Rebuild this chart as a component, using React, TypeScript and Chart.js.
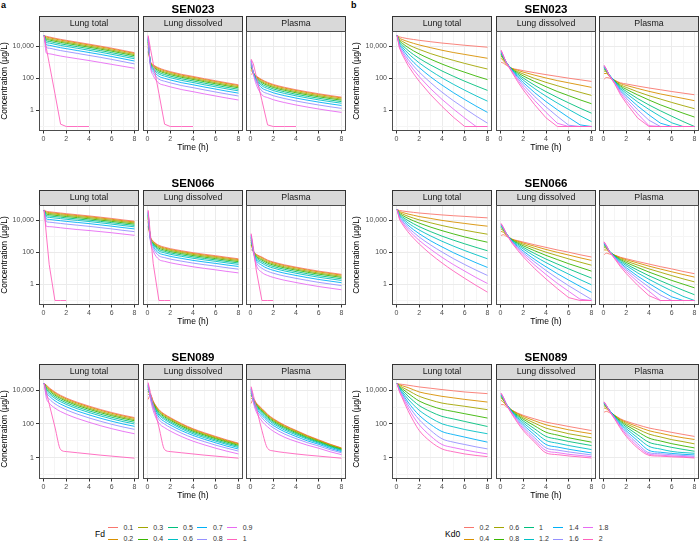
import React, { useEffect, useRef } from 'react';
import { Chart, registerables } from 'chart.js';

Chart.register(...registerables);
Chart.defaults.font.family = '"Liberation Sans", Arial, sans-serif';

// ---------------- data ----------------
const TIME_H = [0, 0.05, 0.25, 0.5, 1, 1.5, 2, 3, 4, 5, 6, 7, 8];
const FD_LEVELS = ['0.1', '0.2', '0.3', '0.4', '0.5', '0.6', '0.7', '0.8', '0.9', '1'];
const KD0_LEVELS = ['0.2', '0.4', '0.6', '0.8', '1', '1.2', '1.4', '1.6', '1.8', '2'];
const COMPARTMENTS = ['Lung total', 'Lung dissolved', 'Plasma'];
const COMPOUNDS = ['SEN023', 'SEN066', 'SEN089'];
const X_TICKS = [0, 1, 2, 3, 4, 5, 6, 7, 8];
const X_LABELED = [0, 2, 4, 6, 8];
const Y_TICKS = [0.1, 1, 10, 100, 1000, 10000];
const Y_TICK_LABELS = ['', '1', '', '100', '', '10,000'];
const Y_MAJOR = [1, 100, 10000];
const FLOOR_VALUE = 0.1;
const Y_RANGES = [
  [0.0525, 89000],
  [0.0525, 89000],
  [0.054, 46800],
];
const HUE_COLORS = ['#F8766D', '#D89000', '#A3A500', '#39B600', '#00BF7D', '#00BFC4', '#00B0F6', '#9590FF', '#E76BF3', '#FF62BC'];

// Panel a: Fd
const fd_SEN023_lungTotal = [
  [0, 46800, 41700, 38000, 31600, 26900, 23400, 17800, 13500, 10200, 7590, 5500, 3980],
  [0, 46800, 37200, 33900, 28200, 24000, 20900, 15800, 12000, 9120, 6760, 4900, 3550],
  [0, 46800, 31600, 28800, 24000, 20400, 17800, 13500, 10200, 7760, 5750, 4170, 3020],
  [0, 46800, 26900, 24500, 20400, 17400, 15100, 11500, 8710, 6610, 4900, 3550, 2570],
  [0, 46800, 21900, 20000, 16600, 14100, 12300, 9330, 7080, 5370, 3980, 2880, 2090],
  [0, 46800, 17400, 15800, 13200, 11200, 9770, 7410, 5620, 4270, 3160, 2290, 1660],
  [0, 46800, 12600, 11500, 9550, 8130, 7080, 5370, 4070, 3090, 2290, 1660, 1200],
  [0, 46800, 8320, 7590, 6310, 5370, 4680, 3550, 2690, 2040, 1510, 1100, 794],
  [0, 46800, 3720, 3390, 2880, 2450, 2140, 1660, 1290, 977, 741, 562, 427],
  [0, 46800, 7410, 851, 11.5, 0.14, 0.1, 0.1, 0.1, null, null, null, null],
];
const fd_SEN023_lungDissolved = [
  [0, 4680, 1120, 708, 447, 331, 263, 178, 132, 95.5, 70.8, 52.5, 39.8],
  [0, 9330, 1070, 661, 398, 295, 234, 158, 117, 85.1, 63.1, 46.8, 35.5],
  [0, 14100, 1020, 589, 339, 251, 200, 135, 100, 72.4, 53.7, 39.8, 30.2],
  [0, 18600, 977, 525, 288, 214, 170, 115, 85.1, 61.7, 45.7, 33.9, 25.7],
  [0, 23400, 933, 447, 234, 174, 138, 93.3, 69.2, 50.1, 37.2, 27.5, 20.9],
  [0, 28200, 871, 380, 186, 138, 110, 74.1, 55.0, 39.8, 29.5, 21.9, 16.6],
  [0, 33100, 794, 309, 135, 100, 79.4, 53.7, 39.8, 28.8, 21.4, 15.8, 12.0],
  [0, 37200, 692, 229, 89.1, 66.1, 52.5, 35.5, 26.3, 19.1, 14.1, 10.5, 7.94],
  [0, 41700, 575, 151, 50.1, 37.2, 29.5, 20.0, 14.8, 10.7, 7.94, 5.89, 4.47],
  [0, 46800, 7410, 851, 11.5, 0.14, 0.1, 0.1, 0.1, null, null, null, null],
];
const fd_SEN023_plasma = [
  [0, 178, 200, 141, 83.2, 56.2, 41.7, 27.5, 19.5, 14.5, 11.0, 8.51, 6.76],
  [0, 316, 209, 132, 74.1, 50.1, 37.2, 24.5, 17.4, 12.9, 9.77, 7.59, 6.03],
  [0, 479, 214, 123, 63.1, 42.7, 31.6, 20.9, 14.8, 11.0, 8.32, 6.46, 5.13],
  [0, 631, 219, 112, 53.7, 36.3, 26.9, 17.8, 12.6, 9.33, 7.08, 5.50, 4.37],
  [0, 794, 219, 100, 43.7, 29.5, 21.9, 14.5, 10.2, 7.59, 5.75, 4.47, 3.55],
  [0, 955, 219, 89.1, 34.7, 23.4, 17.4, 11.5, 8.13, 6.03, 4.57, 3.55, 2.82],
  [0, 1120, 214, 75.9, 25.1, 17.0, 12.6, 8.32, 5.89, 4.37, 3.31, 2.57, 2.04],
  [0, 1260, 204, 60.3, 16.6, 11.2, 8.32, 5.50, 3.89, 2.88, 2.19, 1.70, 1.35],
  [0, 1410, 191, 41.7, 9.33, 6.31, 4.68, 3.09, 2.19, 1.62, 1.23, 0.955, 0.759],
  [0, 1580, 794, 138, 4.17, 0.126, 0.1, 0.1, 0.1, null, null, null, null],
];
const fd_SEN066_lungTotal = [
  [0, 42700, 36300, 33900, 30900, 28200, 25700, 21900, 18600, 15500, 12900, 10500, 8710],
  [0, 42700, 32400, 30200, 27500, 25100, 22900, 19500, 16600, 13800, 11500, 9330, 7760],
  [0, 42700, 28200, 26300, 24000, 21900, 20000, 17000, 14500, 12000, 10000, 8130, 6760],
  [0, 42700, 24000, 22400, 20400, 18600, 17000, 14500, 12300, 10200, 8510, 6920, 5750],
  [0, 42700, 20000, 18600, 17000, 15500, 14100, 12000, 10200, 8510, 7080, 5750, 4790],
  [0, 42700, 16200, 15100, 13800, 12600, 11500, 9770, 8320, 6920, 5750, 4680, 3890],
  [0, 42700, 12000, 11200, 10200, 9330, 8510, 7240, 6170, 5130, 4270, 3470, 2880],
  [0, 42700, 8130, 7590, 6920, 6310, 5750, 4900, 4170, 3470, 2880, 2340, 1950],
  [0, 42700, 4170, 3980, 3720, 3390, 3090, 2630, 2290, 1950, 1660, 1380, 1150],
  [0, 42700, 1200, 17.0, 0.1, 0.1, 0.1, null, null, null, null, null, null],
];
const fd_SEN066_lungDissolved = [
  [0, 4270, 912, 501, 275, 209, 170, 126, 95.5, 75.9, 61.7, 49.0, 39.8],
  [0, 8510, 891, 468, 245, 186, 151, 112, 85.1, 67.6, 55.0, 43.7, 35.5],
  [0, 12900, 851, 417, 214, 162, 132, 97.7, 74.1, 58.9, 47.9, 38.0, 30.9],
  [0, 17000, 813, 372, 182, 138, 112, 83.2, 63.1, 50.1, 40.7, 32.4, 26.3],
  [0, 21400, 759, 331, 151, 115, 93.3, 69.2, 52.5, 41.7, 33.9, 26.9, 21.9],
  [0, 25700, 724, 288, 123, 93.3, 75.9, 56.2, 42.7, 33.9, 27.5, 21.9, 17.8],
  [0, 30200, 661, 229, 91.2, 69.2, 56.2, 41.7, 31.6, 25.1, 20.4, 16.2, 13.2],
  [0, 33900, 589, 178, 61.7, 46.8, 38.0, 28.2, 21.4, 17.0, 13.8, 11.0, 8.91],
  [0, 38000, 501, 120, 36.3, 27.5, 22.4, 16.6, 12.6, 10.0, 8.13, 6.46, 5.25],
  [0, 42700, 1410, 20.0, 0.1, 0.1, 0.1, null, null, null, null, null, null],
];
const fd_SEN066_plasma = [
  [0, 148, 112, 75.9, 51.3, 33.1, 25.1, 16.6, 12.0, 8.91, 6.76, 5.37, 4.27],
  [0, 295, 117, 70.8, 45.7, 29.5, 22.4, 14.8, 10.7, 7.94, 6.03, 4.79, 3.80],
  [0, 447, 120, 63.1, 38.9, 25.1, 19.1, 12.6, 9.12, 6.76, 5.13, 4.07, 3.24],
  [0, 589, 123, 56.2, 33.1, 21.4, 16.2, 10.7, 7.76, 5.75, 4.37, 3.47, 2.75],
  [0, 741, 123, 47.9, 26.9, 17.4, 13.2, 8.71, 6.31, 4.68, 3.55, 2.82, 2.24],
  [0, 891, 123, 40.7, 21.4, 13.8, 10.5, 6.92, 5.01, 3.72, 2.82, 2.24, 1.78],
  [0, 1050, 120, 33.1, 15.5, 10.0, 7.59, 5.01, 3.63, 2.69, 2.04, 1.62, 1.29],
  [0, 1170, 115, 24.5, 10.2, 6.61, 5.01, 3.31, 2.40, 1.78, 1.35, 1.07, 0.851],
  [0, 1320, 105, 16.2, 5.62, 3.63, 2.75, 1.82, 1.32, 0.977, 0.741, 0.589, 0.468],
  [0, 1480, 200, 7.94, 0.1, 0.1, 0.1, null, null, null, null, null, null],
];
const fd_SEN089_lungTotal = [
  [0, 26300, 20000, 14100, 7940, 5010, 3470, 1910, 1150, 724, 479, 331, 240],
  [0, 26300, 18200, 12600, 7080, 4470, 3090, 1700, 1020, 646, 427, 295, 214],
  [0, 26300, 15800, 11000, 6030, 3800, 2630, 1450, 871, 550, 363, 251, 182],
  [0, 26300, 14100, 9330, 5130, 3240, 2240, 1230, 741, 468, 309, 214, 155],
  [0, 26300, 12000, 7590, 4170, 2630, 1820, 1000, 603, 380, 251, 174, 126],
  [0, 26300, 10000, 6170, 3310, 2090, 1450, 794, 479, 302, 200, 138, 100],
  [0, 26300, 7590, 4570, 2400, 1510, 1050, 575, 347, 219, 145, 100, 72.4],
  [0, 26300, 5500, 3090, 1580, 1000, 692, 380, 229, 145, 95.5, 66.1, 47.9],
  [0, 26300, 3390, 1740, 871, 550, 380, 209, 126, 79.4, 52.5, 36.3, 26.3],
  [0, 26300, 7590, 1510, 66.1, 3.02, 2.29, 1.95, 1.66, 1.41, 1.23, 1.07, 0.933],
];
const fd_SEN089_lungDissolved = [
  [0, 2880, 5620, 2240, 708, 380, 240, 105, 52.5, 30.2, 18.2, 11.2, 7.24],
  [0, 5750, 5500, 2090, 646, 347, 219, 95.5, 47.9, 27.5, 16.6, 10.2, 6.76],
  [0, 8710, 5250, 1910, 562, 302, 191, 83.2, 42.7, 24.5, 14.8, 9.33, 6.03],
  [0, 11500, 5010, 1740, 490, 263, 166, 74.1, 37.2, 21.9, 13.2, 8.32, 5.37],
  [0, 14500, 4790, 1510, 407, 219, 138, 61.7, 31.6, 18.6, 11.2, 7.08, 4.68],
  [0, 17400, 4470, 1350, 339, 182, 115, 51.3, 26.3, 15.5, 9.55, 6.03, 3.98],
  [0, 20400, 4170, 1100, 257, 138, 87.1, 39.8, 20.9, 12.3, 7.59, 4.79, 3.24],
  [0, 22900, 3720, 871, 182, 97.7, 61.7, 28.2, 14.8, 8.91, 5.50, 3.63, 2.45],
  [0, 25700, 3240, 617, 112, 60.3, 38.0, 17.8, 9.55, 5.75, 3.63, 2.40, 1.66],
  [0, 28800, 7590, 1510, 66.1, 3.02, 2.29, 1.95, 1.66, 1.41, 1.23, 1.07, 0.933],
];
const fd_SEN089_plasma = [
  [0, 1660, 3160, 1780, 832, 380, 209, 85.1, 41.7, 20.9, 11.5, 6.31, 3.80],
  [0, 3310, 3090, 1660, 759, 347, 191, 77.6, 38.9, 19.5, 10.7, 6.03, 3.63],
  [0, 5010, 2950, 1510, 676, 309, 170, 69.2, 34.7, 17.8, 10.0, 5.50, 3.39],
  [0, 6610, 2880, 1410, 589, 269, 148, 61.7, 30.9, 15.8, 9.12, 5.13, 3.16],
  [0, 8320, 2690, 1260, 501, 229, 126, 52.5, 26.9, 14.1, 8.13, 4.68, 2.88],
  [0, 10000, 2570, 1100, 417, 191, 105, 43.7, 22.9, 12.3, 7.24, 4.17, 2.63],
  [0, 11700, 2400, 912, 324, 148, 81.3, 34.7, 18.2, 10.0, 6.17, 3.55, 2.29],
  [0, 13200, 2140, 724, 234, 107, 58.9, 25.1, 13.5, 7.76, 4.90, 2.95, 1.95],
  [0, 14800, 1910, 537, 148, 67.6, 37.2, 16.2, 9.12, 5.50, 3.63, 2.24, 1.51],
  [0, 16600, 5010, 1000, 41.7, 3.55, 2.51, 2.00, 1.66, 1.41, 1.23, 1.07, 0.933],
];

// Panel b: Kd0
const kd_SEN023_lungTotal = [
  [0, 46800, 38900, 34700, 29500, 26300, 23400, 19100, 15800, 13500, 11500, 10000, 8710],
  [0, 46800, 32400, 26300, 19500, 15100, 12000, 8130, 5620, 4070, 3090, 2340, 1780],
  [0, 46800, 26900, 20400, 12900, 8710, 6310, 3470, 2090, 1320, 851, 562, 380],
  [0, 46800, 22900, 15500, 8510, 5130, 3310, 1550, 776, 417, 240, 138, 83.2],
  [0, 46800, 19100, 12000, 5620, 3020, 1740, 676, 288, 135, 66.1, 33.9, 17.8],
  [0, 46800, 16200, 9120, 3720, 1780, 912, 295, 107, 42.7, 18.2, 8.13, 3.80],
  [0, 46800, 13500, 6920, 2400, 1000, 468, 123, 38.0, 12.9, 4.79, 1.86, 0.759],
  [0, 46800, 11200, 5250, 1580, 589, 245, 53.7, 13.8, 4.07, 1.32, 0.447, 0.162],
  [0, 46800, 9330, 3980, 1020, 339, 126, 22.4, 4.90, 1.23, 0.339, 0.1, 0.1],
  [0, 46800, 7940, 3020, 661, 195, 64.6, 9.55, 1.78, 0.380, 0.1, 0.1, 0.1],
];
const kd_SEN023_lungDissolved = [
  [0, 1000, 891, 661, 417, 355, 302, 224, 170, 132, 102, 81.3, 64.6],
  [0, 1780, 1260, 794, 417, 316, 245, 158, 105, 72.4, 52.5, 38.0, 27.5],
  [0, 2510, 1580, 891, 398, 263, 186, 97.7, 56.2, 34.7, 21.4, 13.5, 8.71],
  [0, 3160, 1780, 955, 380, 224, 141, 63.1, 30.2, 15.1, 8.32, 4.57, 2.63],
  [0, 3720, 2000, 1000, 363, 186, 105, 37.2, 14.8, 6.46, 2.95, 1.38, 0.676],
  [0, 4170, 2140, 1000, 339, 155, 77.6, 22.9, 7.76, 2.88, 1.15, 0.468, 0.204],
  [0, 4680, 2290, 1000, 316, 126, 55.0, 12.9, 3.55, 1.10, 0.363, 0.126, 0.1],
  [0, 5010, 2400, 1000, 295, 102, 39.8, 7.41, 1.66, 0.427, 0.120, 0.1, 0.1],
  [0, 5370, 2510, 977, 269, 81.3, 27.5, 4.17, 0.759, 0.158, 0.1, 0.1, 0.1],
  [0, 5750, 2630, 933, 240, 63.1, 19.1, 2.29, 0.347, 0.1, 0.1, 0.1, 0.1],
];
const kd_SEN023_plasma = [
  [0, 89.1, 112, 105, 74.1, 52.5, 44.7, 33.1, 25.1, 19.5, 15.1, 12.0, 9.55],
  [0, 200, 200, 132, 74.1, 46.8, 36.3, 23.4, 15.5, 10.7, 7.76, 5.62, 4.07],
  [0, 282, 251, 148, 70.8, 38.9, 27.5, 14.5, 8.32, 5.13, 3.16, 2.00, 1.29],
  [0, 355, 282, 158, 67.6, 33.1, 20.9, 9.33, 4.47, 2.24, 1.23, 0.676, 0.389],
  [0, 417, 316, 166, 64.6, 27.5, 15.5, 5.50, 2.19, 0.955, 0.437, 0.204, 0.1],
  [0, 479, 331, 166, 60.3, 22.9, 11.5, 3.39, 1.15, 0.427, 0.170, 0.1, 0.1],
  [0, 525, 347, 166, 56.2, 18.6, 8.13, 1.91, 0.525, 0.162, 0.1, 0.1, 0.1],
  [0, 575, 355, 162, 52.5, 15.1, 5.89, 1.10, 0.245, 0.1, 0.1, 0.1, 0.1],
  [0, 617, 363, 158, 47.9, 12.0, 4.07, 0.617, 0.112, 0.1, 0.1, 0.1, 0.1],
  [0, 661, 372, 151, 42.7, 9.33, 2.82, 0.339, 0.1, 0.1, 0.1, 0.1, 0.1],
];
const kd_SEN066_lungTotal = [
  [0, 46800, 40700, 38000, 33900, 30900, 28200, 24500, 21400, 19100, 17400, 15500, 14100],
  [0, 46800, 35500, 30900, 24500, 20400, 17000, 12900, 9770, 7760, 6310, 5130, 4270],
  [0, 46800, 31600, 25100, 17800, 13500, 10500, 6920, 4680, 3310, 2400, 1780, 1350],
  [0, 46800, 27500, 20400, 13200, 9120, 6610, 3720, 2240, 1410, 912, 617, 427],
  [0, 46800, 24000, 16600, 9550, 6030, 3980, 1950, 1020, 575, 339, 204, 126],
  [0, 46800, 20900, 13800, 6920, 3980, 2450, 1050, 490, 245, 129, 70.8, 39.8],
  [0, 46800, 18200, 11000, 5010, 2570, 1450, 525, 219, 95.5, 45.7, 22.4, 11.5],
  [0, 46800, 16200, 9120, 3630, 1740, 891, 288, 105, 40.7, 17.4, 7.76, 3.63],
  [0, 46800, 14100, 7410, 2690, 1170, 550, 155, 49.0, 17.4, 6.76, 2.69, 1.15],
  [0, 46800, 12300, 5890, 1910, 759, 331, 77.6, 21.9, 6.92, 2.40, 0.871, 0.331],
];
const kd_SEN066_lungDissolved = [
  [0, 1120, 1260, 1000, 661, 537, 437, 295, 204, 141, 102, 70.8, 51.3],
  [0, 2000, 1780, 1200, 661, 501, 380, 240, 151, 100, 67.6, 45.7, 31.6],
  [0, 2820, 2240, 1320, 631, 447, 316, 178, 102, 63.1, 38.9, 24.5, 15.8],
  [0, 3550, 2510, 1410, 603, 389, 257, 126, 64.6, 35.5, 19.5, 11.5, 6.76],
  [0, 4170, 2820, 1480, 575, 339, 204, 85.1, 38.0, 18.6, 9.33, 4.79, 2.51],
  [0, 4680, 3020, 1510, 537, 282, 162, 57.5, 22.9, 9.77, 4.37, 2.00, 0.955],
  [0, 5250, 3160, 1510, 501, 234, 120, 36.3, 12.6, 4.68, 1.86, 0.759, 0.324],
  [0, 5620, 3310, 1510, 468, 204, 93.3, 25.1, 7.41, 2.40, 0.832, 0.309, 0.117],
  [0, 6030, 3470, 1480, 427, 166, 70.8, 16.2, 4.17, 1.17, 0.372, 0.120, 0.1],
  [0, 6310, 3550, 1410, 380, 135, 52.5, 9.77, 2.19, 0.550, 0.151, 0.1, 0.1],
];
const kd_SEN066_plasma = [
  [0, 70.8, 89.1, 79.4, 66.1, 49.0, 39.8, 26.9, 18.6, 12.9, 9.33, 6.46, 4.68],
  [0, 141, 141, 100, 66.1, 45.7, 34.7, 21.9, 13.8, 9.12, 6.17, 4.17, 2.88],
  [0, 200, 178, 110, 63.1, 40.7, 28.8, 16.2, 9.33, 5.75, 3.55, 2.24, 1.45],
  [0, 251, 200, 117, 60.3, 35.5, 23.4, 11.5, 5.89, 3.24, 1.78, 1.05, 0.617],
  [0, 295, 219, 120, 57.5, 30.9, 18.6, 7.76, 3.47, 1.70, 0.851, 0.437, 0.229],
  [0, 331, 234, 120, 53.7, 25.7, 14.8, 5.25, 2.09, 0.891, 0.398, 0.182, 0.1],
  [0, 363, 245, 120, 50.1, 21.4, 11.0, 3.31, 1.15, 0.427, 0.170, 0.1, 0.1],
  [0, 398, 251, 117, 46.8, 18.6, 8.51, 2.29, 0.676, 0.219, 0.1, 0.1, 0.1],
  [0, 427, 257, 115, 42.7, 15.1, 6.46, 1.48, 0.380, 0.1, 0.1, 0.1, 0.1],
  [0, 457, 263, 110, 38.0, 12.3, 4.79, 0.891, 0.200, 0.1, 0.1, 0.1, 0.1],
];
const kd_SEN089_lungTotal = [
  [0, 25100, 23400, 22400, 20000, 17800, 15800, 13200, 11000, 9330, 7940, 7080, 6310],
  [0, 25100, 21400, 18600, 14500, 10700, 7940, 5750, 4370, 3550, 2880, 2400, 2000],
  [0, 25100, 19100, 15100, 10000, 6460, 4370, 2630, 1740, 1380, 1120, 891, 708],
  [0, 25100, 17000, 12300, 6760, 3800, 2290, 1200, 741, 550, 407, 302, 224],
  [0, 25100, 15100, 10000, 4570, 2290, 1230, 537, 282, 200, 141, 100, 70.8],
  [0, 25100, 13500, 8130, 3090, 1350, 646, 229, 102, 67.6, 46.8, 34.7, 26.3],
  [0, 25100, 12000, 6610, 2040, 759, 324, 93.3, 35.5, 23.4, 16.6, 11.7, 8.32],
  [0, 25100, 10700, 5370, 1410, 457, 178, 41.7, 13.2, 8.32, 6.03, 4.37, 3.31],
  [0, 25100, 9550, 4370, 955, 263, 89.1, 19.1, 6.03, 3.98, 2.88, 2.14, 1.66],
  [0, 25100, 8510, 3550, 631, 145, 40.7, 8.91, 3.31, 2.24, 1.66, 1.35, 1.15],
];
const kd_SEN089_lungDissolved = [
  [0, 1410, 1410, 1050, 661, 447, 324, 200, 129, 95.5, 70.8, 53.7, 40.7],
  [0, 2510, 2000, 1260, 661, 417, 282, 155, 89.1, 63.1, 44.7, 33.9, 26.3],
  [0, 3550, 2510, 1380, 631, 372, 234, 112, 56.2, 38.0, 26.3, 20.0, 15.1],
  [0, 4170, 2820, 1480, 603, 324, 191, 77.6, 32.4, 21.9, 15.1, 11.2, 8.32],
  [0, 4790, 3160, 1550, 575, 282, 151, 51.3, 18.2, 12.6, 9.12, 6.92, 5.25],
  [0, 5250, 3310, 1580, 537, 240, 117, 33.9, 10.5, 7.24, 5.25, 3.98, 3.02],
  [0, 5750, 3470, 1580, 501, 200, 89.1, 22.4, 6.03, 4.27, 3.16, 2.45, 1.91],
  [0, 6170, 3630, 1580, 468, 170, 67.6, 15.1, 3.80, 2.82, 2.19, 1.78, 1.45],
  [0, 6460, 3720, 1550, 427, 141, 52.5, 11.0, 2.63, 2.00, 1.58, 1.35, 1.15],
  [0, 6760, 3800, 1480, 380, 117, 40.7, 8.32, 1.91, 1.51, 1.26, 1.10, 0.955],
];
const kd_SEN089_plasma = [
  [0, 501, 562, 479, 316, 200, 145, 89.1, 57.5, 42.7, 31.6, 24.0, 18.2],
  [0, 891, 794, 575, 316, 186, 126, 69.2, 39.8, 28.2, 20.0, 15.1, 12.0],
  [0, 1200, 955, 631, 302, 166, 105, 50.1, 25.1, 17.0, 11.7, 8.91, 6.61],
  [0, 1410, 1050, 661, 288, 145, 85.1, 34.7, 14.5, 9.77, 6.76, 5.01, 3.80],
  [0, 1580, 1120, 676, 275, 126, 67.6, 22.9, 8.13, 5.62, 4.07, 3.09, 2.40],
  [0, 1700, 1170, 676, 257, 107, 52.5, 15.1, 4.68, 3.24, 2.34, 2.00, 1.82],
  [0, 1820, 1200, 676, 240, 89.1, 39.8, 10.0, 2.69, 2.09, 1.78, 1.58, 1.45],
  [0, 1910, 1230, 661, 224, 75.9, 30.2, 6.76, 1.95, 1.70, 1.48, 1.35, 1.20],
  [0, 2000, 1260, 631, 204, 63.1, 23.4, 4.90, 1.62, 1.41, 1.26, 1.17, 1.05],
  [0, 2090, 1260, 603, 186, 52.5, 18.2, 3.72, 1.38, 1.23, 1.12, 1.05, 0.955],
];

// ---------------- layout ----------------
const ROW_STEP = 174;
const TOP_H = 31; // title + strip
const PLOT_H = 100;
const X_AXIS_H = 22;
const STRIP_H = 15;
const FACET_W = 100;
const FONT = '"Liberation Sans", Arial, sans-serif';

const PANELS = [
  {
    tag: 'a',
    tagX: 1,
    levels: FD_LEVELS,
    legendTitle: 'Fd',
    legendTitleX: 95,
    legendKeyX: 108,
    data: [
      [fd_SEN023_lungTotal, fd_SEN023_lungDissolved, fd_SEN023_plasma],
      [fd_SEN066_lungTotal, fd_SEN066_lungDissolved, fd_SEN066_plasma],
      [fd_SEN089_lungTotal, fd_SEN089_lungDissolved, fd_SEN089_plasma],
    ],
    axisLeft: 0,
    axisW: 39,
    yTitlePad: 0,
    facetLeft: [39, 143, 246],
  },
  {
    tag: 'b',
    tagX: 351,
    levels: KD0_LEVELS,
    legendTitle: 'Kd0',
    legendTitleX: 445,
    legendKeyX: 464,
    data: [
      [kd_SEN023_lungTotal, kd_SEN023_lungDissolved, kd_SEN023_plasma],
      [kd_SEN066_lungTotal, kd_SEN066_lungDissolved, kd_SEN066_plasma],
      [kd_SEN089_lungTotal, kd_SEN089_lungDissolved, kd_SEN089_plasma],
    ],
    axisLeft: 350,
    axisW: 42,
    yTitlePad: 1.5,
    facetLeft: [392, 496, 599],
  },
];

function FacetChart(props: any) {
  const ref = useRef<HTMLCanvasElement>(null);
  const { series, levels, col, row, panel, compartment, compound } = props;
  const isFirst = col === 0;
  const left = isFirst ? panel.axisLeft : panel.facetLeft[col];
  const width = isFirst ? panel.axisW + FACET_W : FACET_W;
  const height = TOP_H + PLOT_H + X_AXIS_H;
  const top = row * ROW_STEP;

  useEffect(() => {
    const canvas = ref.current;
    if (!canvas) return;
    const [yMin, yMax] = Y_RANGES[row];
    const datasets = series.map((vals: (number | null)[], i: number) => {
      // series that end on the quantification floor keep sharp corners
      const hitsFloor = vals.some((v) => v === null || v === FLOOR_VALUE);
      return {
        label: levels[i],
        data: TIME_H.map((t, j) => ({ x: t, y: vals[j] })),
        borderColor: HUE_COLORS[i],
        backgroundColor: HUE_COLORS[i],
        borderWidth: 0.9,
        pointRadius: 0,
        tension: 0,
        cubicInterpolationMode: hitsFloor ? 'default' : 'monotone',
        spanGaps: false,
        order: levels.length - i,
      };
    });

    const decor = {
      id: 'facetDecor',
      afterDraw(chart: any) {
        const { ctx, chartArea: a } = chart;
        const w = a.right - a.left;
        ctx.save();
        ctx.fillStyle = '#D9D9D9';
        ctx.fillRect(a.left, a.top - STRIP_H, w, STRIP_H);
        ctx.strokeStyle = '#333333';
        ctx.lineWidth = 1;
        ctx.strokeRect(a.left + 0.5, a.top - STRIP_H + 0.5, w - 1, STRIP_H);
        ctx.fillStyle = '#1A1A1A';
        ctx.font = `8.8px ${FONT}`;
        ctx.textAlign = 'center';
        ctx.textBaseline = 'middle';
        ctx.fillText(compartment, a.left + w / 2, a.top - STRIP_H / 2 + 0.5);
        ctx.strokeStyle = '#4D4D4D';
        ctx.strokeRect(a.left + 0.5, a.top + 0.5, w - 1, a.bottom - a.top - 1);
        ctx.restore();
      },
    };

    const chart = new Chart(canvas, {
      type: 'line',
      data: { datasets },
      plugins: [decor],
      options: {
        responsive: false,
        animation: false,
        devicePixelRatio: 1,
        events: [],
        layout: { padding: 0, autoPadding: false },
        plugins: {
          legend: { display: false },
          tooltip: { enabled: false },
          title: {
            display: true,
            text: col === 1 ? compound : ' ',
            color: '#000000',
            font: { size: 11.5, weight: 'bold', family: FONT },
            padding: { top: 2.6, bottom: 14.6 },
          },
        },
        scales: {
          x: {
            type: 'linear',
            min: -0.4,
            max: 8.4,
            afterBuildTicks: (s: any) => {
              s.ticks = X_TICKS.map((v) => ({ value: v }));
            },
            afterFit: (s: any) => {
              s.height = X_AXIS_H;
            },
            ticks: {
              autoSkip: false,
              maxRotation: 0,
              padding: 1,
              color: '#4D4D4D',
              font: { size: 7, family: FONT },
              callback: (v: any) => (X_LABELED.includes(v) ? String(v) : ''),
            },
            grid: {
              color: (c: any) => (c.tick && X_LABELED.includes(c.tick.value) ? '#EBEBEB' : '#F5F5F5'),
              lineWidth: 1,
              tickLength: 2.5,
              tickColor: (c: any) => (c.tick && X_LABELED.includes(c.tick.value) ? '#333333' : 'rgba(0,0,0,0)'),
            },
            border: { display: false },
            title: {
              display: col === 1,
              text: 'Time (h)',
              color: '#000000',
              font: { size: 8.5, family: FONT },
              padding: 0,
            },
          },
          y: {
            type: 'logarithmic',
            min: yMin,
            max: yMax,
            afterBuildTicks: (s: any) => {
              s.ticks = Y_TICKS.map((v) => ({ value: v }));
            },
            afterFit: (s: any) => {
              s.width = isFirst ? panel.axisW : 0;
            },
            ticks: {
              display: isFirst,
              autoSkip: false,
              padding: 2,
              color: '#4D4D4D',
              font: { size: 7, family: FONT },
              callback: (v: any) => {
                const k = Y_TICKS.indexOf(v);
                return k >= 0 ? Y_TICK_LABELS[k] : '';
              },
            },
            grid: {
              color: (c: any) => (c.tick && Y_MAJOR.includes(c.tick.value) ? '#EBEBEB' : '#F5F5F5'),
              lineWidth: 1,
              drawTicks: isFirst,
              tickLength: 3,
              tickColor: (c: any) => (c.tick && Y_MAJOR.includes(c.tick.value) ? '#333333' : 'rgba(0,0,0,0)'),
            },
            border: { display: false },
            title: {
              display: isFirst,
              text: 'Concentration (µg/L)',
              color: '#000000',
              font: { size: 8.5, family: FONT },
              padding: { top: panel.yTitlePad, bottom: 0 },
            },
          },
        },
      } as any,
    });
    return () => chart.destroy();
  }, []);

  return (
    <canvas
      ref={ref}
      width={width}
      height={height}
      style={{ position: 'absolute', left, top, width, height }}
    />
  );
}

function Legend({ panel }: any) {
  const rowsY = [527.7, 539];
  const step = 29.8;
  const items = panel.levels.map((lv: string, i: number) => {
    const c = Math.floor(i / 2);
    const r = i % 2;
    const kx = panel.legendKeyX + c * step;
    const y = rowsY[r];
    return (
      <React.Fragment key={lv}>
        <div
          style={{
            position: 'absolute',
            left: kx,
            top: y - 0.5,
            width: 10,
            height: 0,
            borderTop: `1px solid ${HUE_COLORS[i]}`,
          }}
        />
        <div
          style={{
            position: 'absolute',
            left: kx + 15.5,
            top: y - 5,
            height: 10,
            lineHeight: '10px',
            fontSize: 7,
            color: '#333333',
            whiteSpace: 'nowrap',
          }}
        >
          {lv}
        </div>
      </React.Fragment>
    );
  });
  return (
    <>
      <div
        style={{
          position: 'absolute',
          left: panel.legendTitleX,
          top: 534 - 6,
          height: 12,
          lineHeight: '12px',
          fontSize: 8.5,
          color: '#000000',
        }}
      >
        {panel.legendTitle}
      </div>
      {items}
    </>
  );
}

export default function App() {
  return (
    <div
      style={{
        position: 'absolute',
        left: 0,
        top: 0,
        width: 700,
        height: 543,
        background: '#ffffff',
        fontFamily: FONT,
        overflow: 'hidden',
      }}
    >
      {PANELS.map((panel) => (
        <React.Fragment key={panel.tag}>
          <div
            style={{
              position: 'absolute',
              left: panel.tagX,
              top: 0,
              fontSize: 9,
              fontWeight: 'bold',
              lineHeight: '10px',
              color: '#000',
            }}
          >
            {panel.tag}
          </div>
          {COMPOUNDS.map((compound, r) =>
            COMPARTMENTS.map((comp, c) => (
              <FacetChart
                key={`${panel.tag}-${r}-${c}`}
                panel={panel}
                row={r}
                col={c}
                compound={compound}
                compartment={comp}
                levels={panel.levels}
                series={panel.data[r][c]}
              />
            ))
          )}
          <Legend panel={panel} />
        </React.Fragment>
      ))}
    </div>
  );
}
